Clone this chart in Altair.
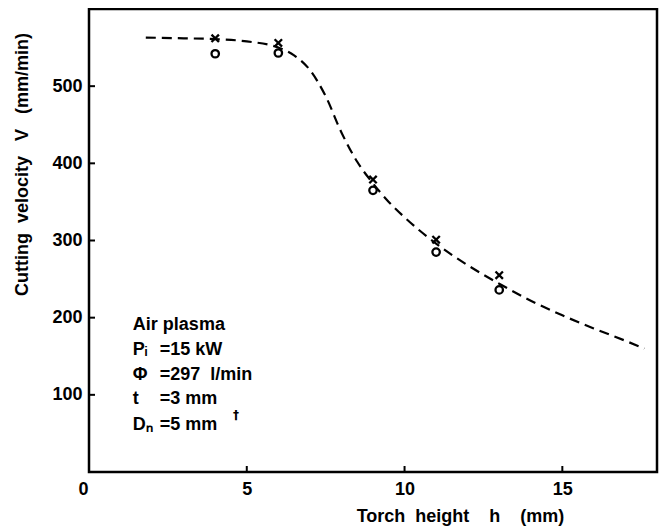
import altair as alt
import pandas as pd

# ---- data ----
h_pts = [4, 6, 9, 11, 13]
v_cross = [562, 556, 379, 301, 255]
v_circle = [542, 543, 365, 285, 236]

curve_h = [1.8, 3, 4, 5, 6, 6.5, 7, 7.5, 8, 8.5, 9, 9.5, 10, 11, 12, 13, 14, 15, 16, 17, 17.6]
curve_v = [563, 562, 561, 558, 550, 540, 521, 487, 440, 402, 374, 350, 330, 296, 268, 244, 222, 203, 186, 170, 160]

x_ticks = [0, 5, 10, 15]
y_ticks = [100, 200, 300, 400, 500]

note_left = ["Air plasma", "Pᵢ", "Φ", "t", "Dₙ"]
note_right = ["", "=15 kW", "=297\u00a0 l/min", "=3 mm", "=5 mm"]
note_mark = ["†"]

# annotation anchor (data units)
NOTE_X_LEFT = 1.39
NOTE_X_RIGHT = 2.24
NOTE_Y = [190, 158, 126, 94, 61]
MARK_X, MARK_Y = 4.66, 74

FONT = "Liberation Sans"
W, H = 568, 463

xs = alt.Scale(domain=[0, 18], nice=False, zero=False)
ys = alt.Scale(domain=[0, 600], nice=False, zero=False)
X_TITLE = "Torch\u00a0 height\u00a0\u00a0\u00a0 h\u00a0\u00a0\u00a0 (mm)"
Y_TITLE = "Cutting\u00a0 velocity\u00a0\u00a0 V\u00a0\u00a0 (mm/min)"

xaxis = alt.Axis(values=x_ticks, ticks=False, grid=False, domain=False,
                 labelFont=FONT, labelFontSize=18, labelFontWeight="bold",
                 labelColor="black", labelPadding=8,
                 labelOffset={"condition": {"test": "datum.value === 0", "value": -11}, "value": 0},
                 titleFont=FONT, titleFontSize=18, titleFontWeight="bold", titleColor="black",
                 titleX=371, titleY=44, titleAlign="center", titleBaseline="middle")
yaxis = alt.Axis(values=y_ticks, ticks=False, grid=False, domain=False,
                 labelFont=FONT, labelFontSize=18, labelFontWeight="bold",
                 labelColor="black", labelPadding=7,
                 titleFont=FONT, titleFontSize=18, titleFontWeight="bold", titleColor="black",
                 titleX=-67, titleY=155, titleAngle=270, titleAlign="center", titleBaseline="middle")


def X(field):
    return alt.X(field, type="quantitative", scale=xs, axis=xaxis, title=X_TITLE)


def Y(field):
    return alt.Y(field, type="quantitative", scale=ys, axis=yaxis, title=Y_TITLE)


curve_df = pd.DataFrame({"h": curve_h, "v": curve_v})
pts_df = pd.DataFrame({"h": h_pts, "vx": v_cross, "vo": v_circle})
xt_df = pd.DataFrame({"t": x_ticks[1:]})
yt_df = pd.DataFrame({"t": y_ticks})
note_df = pd.DataFrame({"l": note_left, "r": note_right, "y": NOTE_Y,
                        "xl": [NOTE_X_LEFT] * 5, "xr": [NOTE_X_RIGHT] * 5})
mark_df = pd.DataFrame({"m": note_mark, "x": [MARK_X], "y": [MARK_Y]})

curve = alt.Chart(curve_df).mark_line(
    color="black", strokeWidth=2.2, strokeDash=[10, 6], interpolate="monotone"
).encode(x=X("h"), y=Y("v"))

crosses = alt.Chart(pts_df).mark_point(
    shape="M-1,-1L1,1M-1,1L1,-1", size=55, filled=False, color="black", strokeWidth=2.3, opacity=1
).encode(x=X("h"), y=Y("vx"))

circles = alt.Chart(pts_df).mark_point(
    shape="circle", size=55, filled=False, color="black", strokeWidth=2.3, opacity=1
).encode(x=X("h"), y=Y("vo"))

xticks = alt.Chart(xt_df).mark_rule(color="black", strokeWidth=2).encode(
    x=X("t"), y=alt.value(H), y2=alt.value(H - 6))
yticks = alt.Chart(yt_df).mark_rule(color="black", strokeWidth=2).encode(
    y=Y("t"), x=alt.value(0), x2=alt.value(6))

txt_l = alt.Chart(note_df).mark_text(
    align="left", baseline="middle", font=FONT, fontSize=18, fontWeight="bold", color="black"
).encode(x=X("xl"), y=Y("y"), text="l:N")
txt_r = alt.Chart(note_df).mark_text(
    align="left", baseline="middle", font=FONT, fontSize=18, fontWeight="bold", color="black"
).encode(x=X("xr"), y=Y("y"), text="r:N")
txt_m = alt.Chart(mark_df).mark_text(
    align="center", baseline="middle", font="DejaVu Sans", fontSize=12, fontWeight="bold", color="black"
).encode(x=X("x"), y=Y("y"), text="m:N")

chart = alt.layer(curve, crosses, circles, xticks, yticks, txt_l, txt_r, txt_m).properties(
    width=W, height=H,
    autosize=alt.AutoSizeParams(type="none"),
    padding={"left": 81, "top": 1, "right": 2, "bottom": 55},
).configure_view(stroke="black", strokeWidth=2.5)

chart.save("out.html", embed_options={"renderer": "svg", "actions": False})
